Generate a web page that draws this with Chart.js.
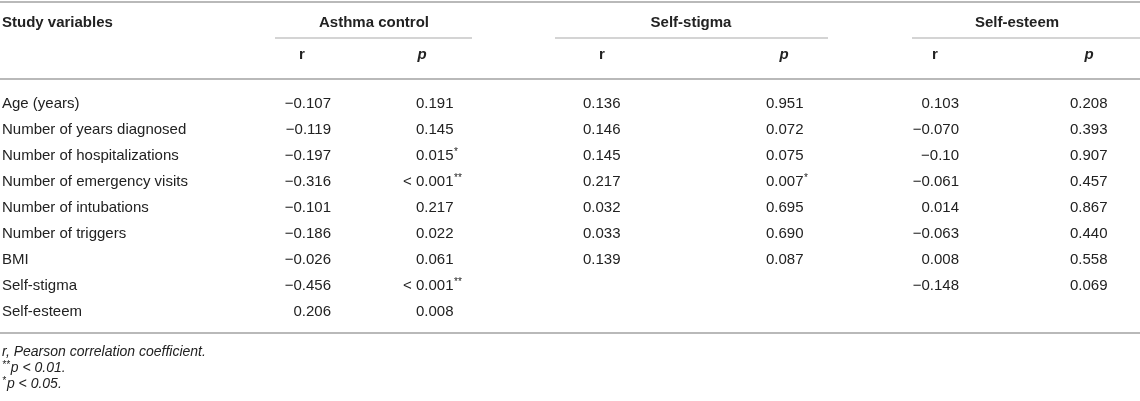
<!DOCTYPE html>
<html>
<head>
<meta charset="utf-8">
<script src="https://cdn.jsdelivr.net/npm/chart.js@4/dist/chart.umd.min.js"></script>
<style>
  html, body { margin: 0; padding: 0; background: #fff; }
  #wrap { width: 1140px; height: 401px; }
</style>
</head>
<body>
<div id="wrap"><canvas id="tbl" width="1140" height="401"></canvas></div>
<script>
// table data
var rowLabels = ['Age (years)', 'Number of years diagnosed', 'Number of hospitalizations',
  'Number of emergency visits', 'Number of intubations', 'Number of triggers', 'BMI',
  'Self-stigma', 'Self-esteem'];
var groups = ['Asthma control', 'Self-stigma', 'Self-esteem'];
var subHeads = ['r', 'p'];
var asthmaR = ['\u22120.107', '\u22120.119', '\u22120.197', '\u22120.316', '\u22120.101', '\u22120.186', '\u22120.026', '\u22120.456', '0.206'];
var asthmaP = ['0.191', '0.145', '0.015*', '< 0.001**', '0.217', '0.022', '0.061', '< 0.001**', '0.008'];
var stigmaR = ['0.136', '0.146', '0.145', '0.217', '0.032', '0.033', '0.139', '', ''];
var stigmaP = ['0.951', '0.072', '0.075', '0.007*', '0.695', '0.690', '0.087', '', ''];
var esteemR = ['0.103', '\u22120.070', '\u22120.10', '\u22120.061', '0.014', '\u22120.063', '0.008', '\u22120.148', ''];
var esteemP = ['0.208', '0.393', '0.907', '0.457', '0.867', '0.440', '0.558', '0.069', ''];
var notes = ['r, Pearson correlation coefficient.', '**p < 0.01.', '*p < 0.05.'];

// layout (x in px units, y in row units)
var FONT = "'Liberation Sans', Arial, Helvetica, sans-serif";
var TXT = '#222';
var colX = { label: 2, aR: 331, aP: 416, sR: 583, sP: 766, eR: 959, eP: 1070 };
var groupX = [374, 691, 1017];
var groupLine = [[275, 472], [555, 828], [912, 1140]];
var subX = [302, 422, 602, 784, 935, 1089];
var rowY = { head: -3.13, sub: -1.89, topRule: -3.9, groupRule: -2.51, headRule: -0.93, bottomRule: 8.88, notes: [9.58, 10.2, 10.82] };

function colData(vals, x) {
  var out = [];
  for (var i = 0; i < vals.length; i++) out.push({ x: x, y: i });
  return out;
}

var columns = [
  { texts: rowLabels, x: colX.label, align: 'left' },
  { texts: asthmaR, x: colX.aR, align: 'right' },
  { texts: asthmaP, x: colX.aP, align: 'decimal' },
  { texts: stigmaR, x: colX.sR, align: 'left' },
  { texts: stigmaP, x: colX.sP, align: 'decimal' },
  { texts: esteemR, x: colX.eR, align: 'right' },
  { texts: esteemP, x: colX.eP, align: 'decimal' }
];

// draws "< 0.001**" style cells, stars as superscript
function drawCell(ctx, str, x, y, align, italic) {
  if (!str) return;
  var m = str.match(/^(\*{0,2})(<\s)?([^*]*)(\**)$/);
  var lead = m[1], pre = m[2] || '', body = m[3], stars = m[4];
  var it = italic ? 'italic ' : '';
  var big = it + (italic ? '14px ' : '15px ') + FONT;
  var small = it + '10px ' + FONT;
  var base = y + (italic ? 5 : 5.4);
  ctx.font = big;
  var bw = ctx.measureText(body).width;
  ctx.font = small;
  var sw = ctx.measureText(stars).width;
  var lw = ctx.measureText(lead).width;
  var sx = x;
  if (align === 'right') sx = x - bw - sw;
  ctx.textAlign = 'left';
  ctx.textBaseline = 'alphabetic';
  ctx.fillStyle = TXT;
  if (lead) {
    ctx.font = small;
    ctx.fillText(lead, sx, base - 4);
    sx += lw + 1;
  }
  ctx.font = big;
  if (pre) {
    ctx.textAlign = 'right';
    ctx.fillText(pre, sx, base);
    ctx.textAlign = 'left';
  }
  ctx.fillText(body, sx, base);
  if (stars) {
    ctx.font = small;
    ctx.fillText(stars, sx + bw + 0.5, base - 5);
  }
}

function hline(ctx, xs, x0, x1, py, w, col) {
  ctx.save();
  ctx.strokeStyle = col;
  ctx.lineWidth = w;
  ctx.beginPath();
  ctx.moveTo(xs.getPixelForValue(x0), py);
  ctx.lineTo(xs.getPixelForValue(x1), py);
  ctx.stroke();
  ctx.restore();
}

var tablePlugin = {
  id: 'tableText',
  afterDatasetsDraw: function(chart) {
    var ctx = chart.ctx;
    var xs = chart.scales.x, ys = chart.scales.y;
    ctx.save();

    // rules
    hline(ctx, xs, 0, 1140, ys.getPixelForValue(rowY.topRule), 2, '#b9b9b9');
    hline(ctx, xs, 0, 1140, ys.getPixelForValue(rowY.headRule), 2, '#b9b9b9');
    hline(ctx, xs, 0, 1140, ys.getPixelForValue(rowY.bottomRule), 2, '#b9b9b9');
    for (var g = 0; g < groupLine.length; g++) {
      hline(ctx, xs, groupLine[g][0], groupLine[g][1], ys.getPixelForValue(rowY.groupRule), 1.2, '#a9a9a9');
    }

    // header
    ctx.fillStyle = TXT;
    ctx.textBaseline = 'alphabetic';
    ctx.font = 'bold 15px ' + FONT;
    ctx.textAlign = 'left';
    ctx.fillText('Study variables', xs.getPixelForValue(colX.label), ys.getPixelForValue(rowY.head) + 5.4);
    ctx.textAlign = 'center';
    for (var k = 0; k < groups.length; k++) {
      ctx.fillText(groups[k], xs.getPixelForValue(groupX[k]), ys.getPixelForValue(rowY.head) + 5.4);
    }
    for (var s = 0; s < subX.length; s++) {
      var lab = subHeads[s % 2];
      ctx.font = (lab === 'p' ? 'italic bold 15px ' : 'bold 15px ') + FONT;
      ctx.fillText(lab, xs.getPixelForValue(subX[s]), ys.getPixelForValue(rowY.sub) + 5.4);
    }

    // body cells, placed at the points the library computed
    chart.data.datasets.forEach(function(ds, di) {
      var meta = chart.getDatasetMeta(di);
      meta.data.forEach(function(pt, i) {
        drawCell(ctx, ds.texts[i], pt.x, pt.y, ds.align === 'right' ? 'right' : 'left', false);
      });
    });

    // footnotes
    for (var n = 0; n < notes.length; n++) {
      drawCell(ctx, notes[n], xs.getPixelForValue(colX.label), ys.getPixelForValue(rowY.notes[n]), 'left', true);
    }
    ctx.restore();
  }
};

var datasets = columns.map(function(c) {
  return {
    data: colData(c.texts, c.x),
    texts: c.texts,
    align: c.align,
    pointRadius: 0,
    pointHoverRadius: 0,
    showLine: false
  };
});

new Chart(document.getElementById('tbl'), {
  type: 'scatter',
  data: { datasets: datasets },
  options: {
    responsive: false,
    animation: false,
    events: [],
    layout: { padding: 0 },
    plugins: { legend: { display: false }, tooltip: { enabled: false }, title: { display: false } },
    scales: {
      x: { type: 'linear', min: 0, max: 1140, display: false },
      y: { type: 'linear', min: -103 / 25.9, max: (401 - 103) / 25.9, reverse: true, display: false }
    }
  },
  plugins: [tablePlugin]
});
</script>
</body>
</html>
